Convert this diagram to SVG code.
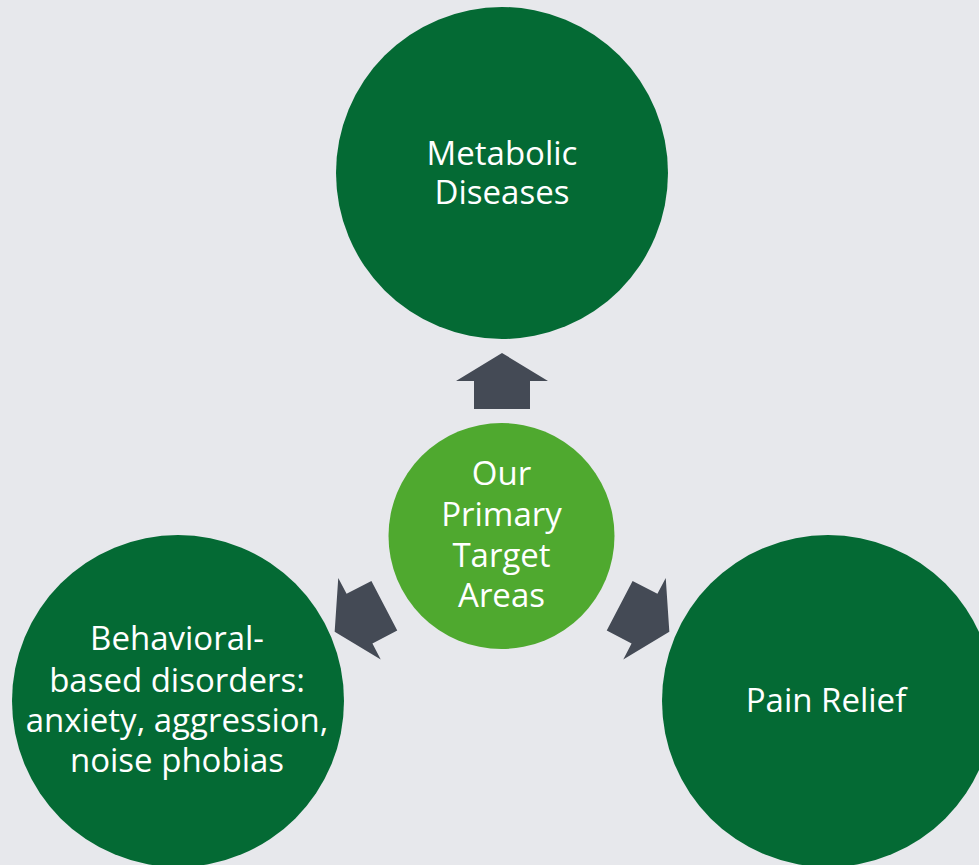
<svg xmlns="http://www.w3.org/2000/svg" width="979" height="865" viewBox="0 0 979 865">
<defs>
<style>
.dk{fill:#046A34}
.lt{fill:#4FA92F}
.arr{fill:#444A55}
text{font-family:"Open Sans","Noto Sans","Liberation Sans",sans-serif;font-size:33px;fill:#FFFFFF;text-anchor:middle}
</style>
<path id="arrowShape" d="M0,-28 L46,0 L28,0 L28,28 L-28,28 L-28,0 L-46,0 Z"/>
</defs>
<rect width="979" height="865" fill="#E7E8EC"/>
<g id="connectors">
<use href="#arrowShape" class="arr" transform="translate(502,381)"/>
<use href="#arrowShape" class="arr" transform="translate(359.5,618.7) rotate(-117.5)"/>
<use href="#arrowShape" class="arr" transform="translate(644.5,618.7) rotate(117.5)"/>
</g>
<g id="metabolic">
<circle class="dk" cx="502" cy="173" r="166"/>
<text x="502" y="165">Metabolic</text>
<text x="502" y="204">Diseases</text>
</g>
<g id="center">
<circle class="lt" cx="501.5" cy="536" r="113"/>
<text x="501.5" y="485">Our</text>
<text x="501.5" y="526">Primary</text>
<text x="501.5" y="567">Target</text>
<text x="501.5" y="607">Areas</text>
</g>
<g id="behavioral">
<circle class="dk" cx="178" cy="701" r="166"/>
<text x="177" y="650">Behavioral-</text>
<text x="177" y="692">based disorders:</text>
<text x="177" y="732">anxiety, aggression,</text>
<text x="177" y="772">noise phobias</text>
</g>
<g id="pain">
<circle class="dk" cx="828" cy="701" r="166"/>
<text x="826" y="712">Pain Relief</text>
</g>
</svg>
